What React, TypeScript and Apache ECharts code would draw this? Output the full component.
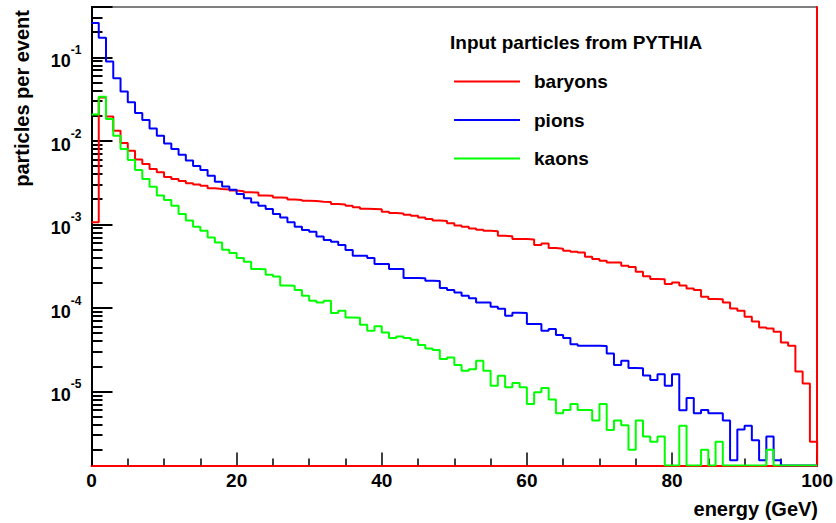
import React, { useEffect, useRef } from "react";
import * as echarts from "echarts";

// ---- data (per-bin contents, bins of 1 GeV from 0 to 100) ----
const binLowEdges: number[] = Array.from({ length: 100 }, (_, i) => i);

const baryons: number[] = [
  1.06e-3, 0.033, 0.0196, 0.0132, 0.0094, 0.0076, 0.006, 0.0053, 0.0046, 0.0042,
  0.0037, 0.0035, 0.0033, 0.0031, 0.003, 0.0029, 0.0027, 0.00265, 0.00262, 0.00254,
  0.0025, 0.00242, 0.0024, 0.00222, 0.0022, 0.0021, 0.00208, 0.00198, 0.00196, 0.00192,
  0.0019, 0.00187, 0.00185, 0.00175, 0.00173, 0.00167, 0.0016, 0.00154, 0.00153, 0.00152,
  0.00142, 0.00137, 0.00135, 0.0013, 0.00127, 0.00121, 0.00116, 0.00111, 0.0011, 0.00103,
  0.00097, 0.00094, 0.000895, 0.000864, 0.00084, 0.00083, 0.00073, 0.00072, 0.00067, 0.00067,
  0.00066, 0.000567, 0.00059, 0.00052, 0.00051, 0.000484, 0.00047, 0.00046, 0.00041, 0.000385,
  0.000367, 0.00035, 0.00035, 0.00032, 0.00031, 0.000272, 0.000239, 0.000222, 0.00022, 0.000193,
  0.000202, 0.000185, 0.000171, 0.000164, 0.000136, 0.000128, 0.000127, 0.000116, 0.0000985, 0.0000927,
  0.0000785, 0.0000689, 0.0000584, 0.0000568, 0.0000518, 0.0000386, 0.0000353, 0.0000174, 0.0000125, 0.0000025,
];

const pions: number[] = [
  0.258, 0.171, 0.089, 0.056, 0.039, 0.0289, 0.0216, 0.0178, 0.0141, 0.0115,
  0.0093, 0.008, 0.0068, 0.0058, 0.005, 0.00448, 0.00383, 0.00324, 0.00285, 0.0026,
  0.00231, 0.00205, 0.00183, 0.00167, 0.00153, 0.00133, 0.00121, 0.00106, 0.00094, 0.000857,
  0.000818, 0.000718, 0.00065, 0.00062, 0.000566, 0.000493, 0.000422, 0.000422, 0.000396, 0.000335,
  0.000335, 0.000292, 0.000292, 0.000228, 0.000228, 0.000226, 0.000212, 0.00021, 0.000173, 0.000164,
  0.000153, 0.00014, 0.000131, 0.000116, 0.000116, 0.000103, 0.000098, 0.0000807, 0.0000875, 0.0000868,
  0.0000641, 0.0000641, 0.0000533, 0.0000558, 0.0000475, 0.0000436, 0.0000367, 0.0000353, 0.0000353, 0.0000352,
  0.0000351, 0.0000285, 0.0000207, 0.0000233, 0.0000191, 0.000019, 0.0000155, 0.0000137, 0.0000161, 0.0000117,
  0.0000161, 0.00000598, 0.00000834, 0.0000055, 0.000006, 0.0000055, 0.0000055, 0.0000045, 0.0000015, 0.0000035,
  0.0000039, 0.0000026, 0.0000015, 0.0000029, 0.0000015, 0, 0, 0, 0, 0,
];

const kaons: number[] = [
  0.0206, 0.0338, 0.0183, 0.0115, 0.008, 0.0059, 0.00448, 0.0035, 0.00283, 0.00221,
  0.00196, 0.00167, 0.00133, 0.00111, 0.00094, 0.00084, 0.000698, 0.000608, 0.000498, 0.000454,
  0.000396, 0.000357, 0.000292, 0.00029, 0.000249, 0.000238, 0.000185, 0.000184, 0.000164, 0.00014,
  0.000122, 0.000116, 0.000122, 0.0000867, 0.0000927, 0.0000769, 0.0000765, 0.000063, 0.0000533, 0.0000605,
  0.0000509, 0.0000436, 0.0000456, 0.0000436, 0.0000416, 0.0000359, 0.0000327, 0.0000313, 0.0000244, 0.0000255,
  0.0000207, 0.0000177, 0.0000185, 0.0000233, 0.0000177, 0.0000117, 0.0000154, 0.0000112, 0.0000126, 0.0000112,
  0.0000071, 0.0000098, 0.000011, 0.000008, 0.0000055, 0.000006, 0.0000071, 0.000006, 0.000006, 0.0000045,
  0.0000071, 0.00000345, 0.0000045, 0.00000395, 0.000002, 0.0000045, 0.0000029, 0.0000025, 0.0000029, 0,
  0, 0.0000039, 0, 0, 0.000002, 0, 0.0000025, 0, 0, 0,
  0, 0, 0, 0.000002, 0, 0, 0, 0, 0, 0,
];

const seriesNames: string[] = ["baryons", "pions", "kaons"];
const seriesColors: string[] = ["#ff0000", "#0000ff", "#00ff00"];
const legendTitle = "Input particles from PYTHIA";
const xTitle = "energy (GeV)";
const yTitle = "particles per event";

const X_MIN = 0;
const X_MAX = 100;
const X_STEP = 20;
const Y_MIN = 1.3e-6;
const Y_MAX = 0.4;
const yMajorTicks: number[] = [1e-5, 1e-4, 1e-3, 1e-2, 1e-1];
// log-axis minor tick multipliers (2..9 x 10^n)
const yMinorMultipliers: number[] = [2, 3, 4, 5, 6, 7, 8, 9];

const FONT = "'Liberation Sans', Arial, Helvetica, sans-serif";
const GRID = { left: 91.5, right: 18.5, top: 7, bottom: 57.5 };
const CHART_W = 836;
const CHART_H = 523;

// ROOT-style histogram outline built from the bin contents
function outline(values: number[]): number[][] {
  const pts: number[][] = [];
  values.forEach((v, i) => {
    const y = v > 0 ? v : Y_MIN;
    pts.push([binLowEdges[i], y], [binLowEdges[i] + 1, y]);
  });
  pts.push([X_MAX, Y_MIN]);
  return pts;
}

export default function App() {
  const ref = useRef<HTMLDivElement>(null);

  useEffect(() => {
    if (!ref.current) return;
    const chart = echarts.init(ref.current, undefined, { renderer: "svg" });
    const allSeries = [baryons, pions, kaons];

    // A log axis whose range is the main range divided by m puts its
    // decade ticks exactly at m x 10^n of the main axis: ROOT-like minor ticks.
    const minorTickAxes = yMinorMultipliers.map((m) => ({
      type: "log",
      logBase: 10,
      min: Y_MIN / m,
      max: Y_MAX / m,
      position: "left",
      z: 0,
      splitLine: { show: false },
      minorTick: { show: false },
      axisLine: { show: false, onZero: false },
      axisLabel: { show: false },
      axisTick: { show: true, inside: true, length: 11, lineStyle: { color: "#000", width: 2 } },
    }));

    chart.setOption({
      animation: false,
      textStyle: { fontFamily: FONT },
      grid: { ...GRID, show: true, borderColor: "#000", borderWidth: 1, backgroundColor: "transparent" },
      title: {
        text: legendTitle,
        left: 450,
        top: 31,
        padding: 0,
        textStyle: { fontSize: 19, fontWeight: "bold", color: "#000", fontFamily: FONT, lineHeight: 22 },
      },
      legend: {
        data: seriesNames,
        orient: "vertical",
        left: 454,
        top: 70.5,
        padding: 0,
        itemWidth: 66,
        itemHeight: 2,
        itemGap: 16.5,
        icon: "rect",
        selectedMode: false,
        textStyle: { fontSize: 19, fontWeight: "bold", color: "#000", fontFamily: FONT, lineHeight: 22, padding: [0, 0, 0, 9] },
      },
      xAxis: {
        type: "value",
        min: X_MIN,
        max: X_MAX,
        interval: X_STEP,
        z: 1,
        splitLine: { show: false },
        axisLine: { show: true, lineStyle: { color: "#ff0000", width: 2 } },
        axisTick: { show: true, inside: true, length: 13, lineStyle: { color: "#000", width: 1.5 } },
        minorTick: { show: true, splitNumber: 4, length: 7, lineStyle: { color: "#000", width: 1.5 } },
        axisLabel: { fontSize: 19, fontWeight: "bold", color: "#000", fontFamily: FONT, margin: 5 },
      },
      yAxis: [
        {
          type: "log",
          logBase: 10,
          min: Y_MIN,
          max: Y_MAX,
          position: "left",
          splitLine: { show: false },
          minorTick: { show: false },
          axisLine: { show: true, onZero: false, lineStyle: { color: "#000", width: 2 } },
          axisTick: { show: true, inside: true, length: 21, lineStyle: { color: "#000", width: 2 } },
          axisLabel: {
            customValues: yMajorTicks,
            margin: 10,
            formatter: (v: number) => `{b|10}{s|${Math.round(Math.log10(v))}}`,
            rich: {
              b: { fontSize: 18, fontWeight: "bold", color: "#000", fontFamily: FONT, lineHeight: 26, verticalAlign: "bottom" },
              s: { fontSize: 12, fontWeight: "bold", color: "#000", fontFamily: FONT, lineHeight: 14, verticalAlign: "top" },
            },
          },
        },
        {
          type: "log",
          logBase: 10,
          min: Y_MIN,
          max: Y_MAX,
          position: "right",
          splitLine: { show: false },
          minorTick: { show: false },
          axisLine: { show: true, onZero: false, lineStyle: { color: "#ff0000", width: 2 } },
          axisTick: { show: false },
          axisLabel: { show: false },
        },
        ...minorTickAxes,
      ],
      series: allSeries.map((vals, k) => ({
        name: seriesNames[k],
        type: "line",
        xAxisIndex: 0,
        yAxisIndex: 0,
        data: outline(vals),
        showSymbol: false,
        symbol: "none",
        silent: true,
        itemStyle: { color: seriesColors[k] },
        lineStyle: { color: seriesColors[k], width: 2 },
      })),
      graphic: [
        {
          type: "text",
          x: 22,
          y: 10,
          rotation: Math.PI / 2,
          style: { text: yTitle, fontSize: 20, fontWeight: "bold", fill: "#000", fontFamily: FONT, align: "right", verticalAlign: "middle" },
        },
        {
          type: "text",
          x: 818,
          y: 509,
          style: { text: xTitle, fontSize: 20, fontWeight: "bold", fill: "#000", fontFamily: FONT, align: "right", verticalAlign: "middle" },
        },
      ],
    });

    return () => chart.dispose();
  }, []);

  return <div ref={ref} style={{ position: "fixed", left: 0, top: 0, width: CHART_W, height: CHART_H, background: "#fff" }} />;
}
